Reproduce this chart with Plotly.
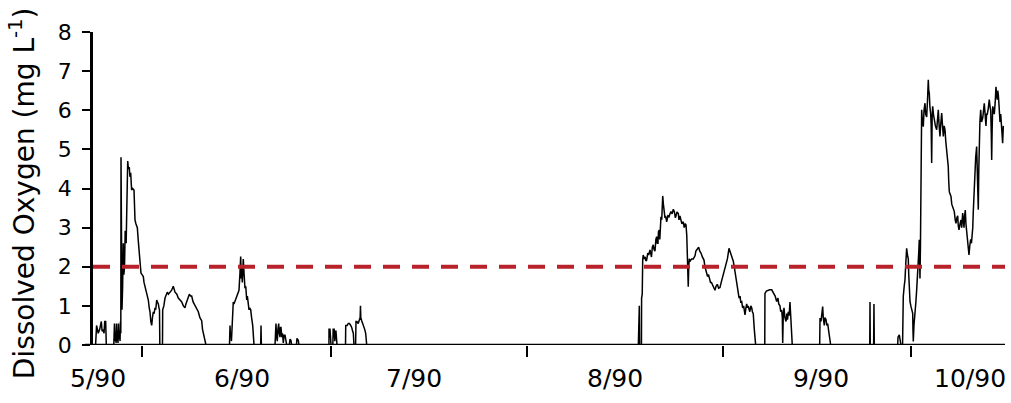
import plotly.graph_objects as go

# ---- data ----
DAY = [
    0, 0.4, 0.55, 0.8, 1.03, 1.28, 1.4, 1.54, 1.7, 1.8, 1.95, 2.05,
    3.2, 3.3, 3.4, 3.46, 3.55, 3.62, 3.7, 3.77, 3.85, 3.92, 4.0, 4.08, 4.16, 4.23, 4.28,
    4.31, 4.36, 4.46, 4.56, 4.66, 4.75, 4.85, 4.95, 5.03, 5.1, 5.18, 5.26, 5.34, 5.45, 5.58, 5.68, 5.8,
    5.94, 6.1, 6.31, 6.46, 6.6, 6.82, 6.95, 7.12, 7.25, 7.38, 7.55, 7.74, 7.85, 8.0, 8.2, 8.35, 8.51,
    8.65, 8.77, 8.9, 9.03, 9.15, 9.28, 9.4, 9.54, 9.65, 9.8, 9.92, 10.05, 10.15, 10.23, 10.28,
    10.69, 10.72, 10.9, 11.08, 11.25, 11.43, 11.6, 11.85, 12.1, 12.35, 12.5, 12.62, 12.9, 13.12, 13.4,
    13.65, 13.9, 14.15, 14.3, 14.42, 14.6, 14.82, 15.0, 15.18, 15.4, 15.69, 15.95, 16.2, 16.45, 16.72,
    16.85, 17.08, 17.38,
    21.0, 21.08, 21.15, 21.23, 21.3, 21.38, 21.5, 21.58, 21.69, 21.9, 22.11, 22.3, 22.46, 22.6, 22.72,
    22.8, 22.85, 22.97, 23.05, 23.12, 23.25, 23.38, 23.5, 23.65, 23.75, 23.85, 24.0, 24.1, 24.26, 24.4,
    24.57, 24.77,
    25.8, 25.85, 25.9,
    28.0, 28.15, 28.25, 28.35, 28.45, 28.57, 28.65, 28.77, 28.85, 28.92, 29.05, 29.15, 29.28, 29.4,
    29.54, 29.65, 29.8, 30.2, 30.31, 30.45, 30.57, 31.3, 31.38, 31.58, 31.69,
    36.3, 36.31, 36.46, 36.55, 36.62, 36.9, 36.95, 37.1, 37.2, 37.3, 37.38, 37.54,
    38.85, 38.88, 39.1, 39.28, 39.45, 39.65, 39.8, 39.95, 40.05, 40.15,
    40.4, 40.46, 40.6, 40.8, 40.97, 41.1, 41.15, 41.2, 41.34, 41.5, 41.69, 41.8, 41.95, 42.11,
    83.9, 83.95, 84.05, 84.1, 84.38, 84.4, 84.5, 84.57, 84.65, 84.77, 84.95, 85.05, 85.18, 85.35, 85.5,
    85.69, 85.8, 85.92, 86.05, 86.2, 86.3, 86.46, 86.6, 86.72, 86.82, 86.92, 87.0, 87.12, 87.2, 87.3,
    87.38, 87.5, 87.65, 87.75, 87.85, 88.0, 88.1, 88.26, 88.45, 88.62, 88.75, 88.92, 89.1, 89.28, 89.45,
    89.6, 89.69, 89.85, 90.05, 90.15, 90.3, 90.46, 90.6, 90.82, 90.95, 91.1, 91.23, 91.35, 91.43, 91.52,
    91.58, 91.65, 91.74, 91.9, 92.11, 92.35, 92.62, 92.75, 92.88, 93.0, 93.18, 93.35, 93.54, 93.75, 94.0,
    94.15, 94.25, 94.42, 94.55, 94.7, 94.82, 95.0, 95.15, 95.34, 95.5, 95.69, 95.85, 96.05, 96.25, 96.46,
    96.65, 96.88, 97.1, 97.38, 97.6, 97.85, 98.0, 98.15, 98.3, 98.51, 98.7, 98.88, 99.05, 99.15, 99.28,
    99.4, 99.55, 99.65, 99.8, 99.95, 100.1, 100.2, 100.31, 100.45, 100.57, 100.7, 100.8, 100.92, 101.05,
    101.2, 101.34, 101.45, 101.58, 101.74, 101.95,
    103.35, 103.38, 103.6, 103.89, 104.1, 104.42, 104.6, 104.77, 104.95, 105.18, 105.3, 105.38, 105.5,
    105.69, 105.8, 105.95, 106.05, 106.11, 106.2, 106.31, 106.45, 106.62, 106.75, 106.85, 106.97, 107.1,
    107.23, 107.3, 107.38, 107.58,
    111.8, 111.85, 112.0, 112.15, 112.26, 112.35, 112.51, 112.6, 112.77, 112.9, 113.03, 113.15, 113.23, 113.49,
    119.5, 119.54, 119.58, 120.1, 120.15, 120.2,
    123.8, 123.85, 124.05, 124.15, 124.3, 124.55, 124.6, 124.66, 124.8, 124.92, 125.05, 125.18, 125.3,
    125.43, 125.5, 125.58, 125.7, 125.85, 126.0, 126.11, 126.15, 126.2, 126.3, 126.46, 126.6, 126.72,
    126.85, 126.97, 127.05, 127.12, 127.18, 127.23, 127.3, 127.38, 127.49, 127.6, 127.74, 127.85, 128.0,
    128.1, 128.26, 128.4, 128.51, 128.58, 128.66, 128.75, 128.88, 128.95, 129.03, 129.1, 129.18, 129.3,
    129.43, 129.6, 129.8, 129.92, 130.05, 130.18, 130.31, 130.45, 130.57, 130.7, 130.82, 130.95, 131.08,
    131.2, 131.34, 131.45, 131.58, 131.65, 131.74, 131.88, 132.0, 132.12, 132.26, 132.4, 132.51, 132.65,
    132.77, 132.9, 133.03, 133.12, 133.23, 133.4, 133.54, 133.65, 133.8, 133.9, 134.0, 134.1, 134.2,
    134.3, 134.42, 134.55, 134.66, 134.72, 134.77, 134.9, 135.03, 135.15, 135.28, 135.35, 135.43, 135.55,
    135.69, 135.8, 135.95, 136.05, 136.2, 136.28, 136.35, 136.45, 136.57, 136.7, 136.88, 137.0, 137.12,
    137.25, 137.38, 137.48, 137.58, 137.7, 137.89, 138.0, 138.11, 138.2, 138.26, 138.33, 138.42, 138.55,
    138.66, 138.8, 138.92, 139.02, 139.12, 139.2, 139.28, 139.4, 139.54, 139.65, 139.8, 139.88, 139.95, 140.05,
]

DO = [
    0, 0, 0.5, 0.3, 0.4, 0.6, 0.35, 0.4, 0.3, 0.6, 0.6, 0,
    0, 0.55, 0.1, 0.3, 0.05, 0.55, 0.1, 0.2, 0.05, 0.55, 0.15, 0.35, 0.1, 0.6, 0.3,
    4.8, 2.0, 0.9, 1.5, 2.6, 1.8, 2.0, 2.9, 2.9, 2.6, 3.5, 3.3, 4.7, 4.5, 4.55, 4.3, 4.4,
    3.96, 4.0, 3.96, 3.2, 3.1, 3.0, 2.7, 2.26, 2.1, 1.84, 1.8, 1.75, 1.6, 1.5, 1.35, 1.2, 1.15,
    0.95, 0.85, 0.6, 0.5, 0.7, 0.85, 0.8, 0.95, 0.9, 1.15, 1.1, 1.05, 0.95, 0.9, 0,
    0, 0.9, 1.0, 1.2, 1.3, 1.35, 1.3, 1.35, 1.4, 1.5, 1.4, 1.35, 1.3, 1.2, 1.15,
    1.1, 1.0, 0.95, 1.05, 1.12, 1.2, 1.3, 1.25, 1.25, 1.1, 1.0, 0.9, 0.85, 0.7, 0.62,
    0.4, 0.2, 0,
    0, 0.5, 0.2, 0.3, 0.1, 0.55, 0.6, 1.1, 1.05, 1.15, 1.25, 1.3, 1.4, 1.8, 2.26,
    1.7, 2.0, 1.6, 1.9, 2.2, 1.8, 1.45, 1.5, 1.15, 1.25, 1.0, 0.9, 0.95, 0.9, 0.7,
    0.5, 0,
    0, 0.5, 0,
    0, 0.55, 0.2, 0.1, 0.4, 0.55, 0.3, 0.2, 0.45, 0.45, 0.2, 0.3, 0.05, 0.25,
    0.25, 0.1, 0, 0, 0.15, 0.12, 0, 0, 0.17, 0.12, 0,
    0, 0.4, 0.4, 0.1, 0, 0, 0.4, 0.4, 0.1, 0.35, 0.35, 0,
    0, 0.5, 0.5, 0.55, 0.55, 0.5, 0.45, 0.35, 0.3, 0,
    0, 0.6, 0.6, 0.55, 0.62, 0.7, 1.0, 0.7, 0.62, 0.55, 0.5, 0.4, 0.3, 0,
    0, 1.0, 1.0, 0, 0, 1.2, 1.3, 2.17, 2.3, 2.2, 2.25, 2.15, 2.17, 2.35, 2.3,
    2.43, 2.3, 2.25, 2.5, 2.56, 2.45, 2.4, 2.7, 2.77, 2.6, 2.6, 2.9, 2.94, 2.7, 3.1,
    3.28, 3.2, 3.81, 3.6, 3.36, 3.25, 3.3, 3.15, 3.3, 3.28, 3.35, 3.41, 3.35, 3.47, 3.4,
    3.25, 3.3, 3.4, 3.36, 3.2, 3.3, 3.2, 3.1, 3.15, 3.0, 3.1, 3.07, 2.8, 2.39, 2.0,
    1.49, 2.0, 2.2, 2.15, 2.2, 2.2, 2.28, 2.4, 2.43, 2.45, 2.5, 2.4, 2.35, 2.25, 2.17,
    2.0, 1.95, 1.87, 1.75, 1.8, 1.7, 1.6, 1.6, 1.53, 1.45, 1.4, 1.5, 1.55, 1.45, 1.47,
    1.6, 1.75, 1.9, 2.05, 2.2, 2.47, 2.4, 2.3, 2.25, 2.14, 1.95, 1.75, 1.6, 1.4, 1.32,
    1.2, 1.25, 1.1, 1.11, 0.95, 1.0, 0.85, 0.77, 0.95, 1.05, 0.95, 1.0, 0.92, 0.85,
    1.0, 0.95, 0.85, 0.8, 0.4, 0,
    0, 1.32, 1.38, 1.41, 1.41, 1.41, 1.35, 1.3, 1.25, 1.11, 1.2, 1.2, 1.05,
    1.0, 0.85, 0.9, 0.7, 0.05, 0.8, 0.95, 0.7, 0.6, 0.8, 0.65, 0.85, 0.75,
    1.1, 0.8, 0.6, 0,
    0, 0.69, 0.6, 0.85, 0.98, 0.7, 0.5, 0.7, 0.65, 0.5, 0.55, 0.4, 0.3, 0,
    0, 1.1, 0, 0, 1.05, 0,
    0, 0.2, 0.26, 0.1, 0, 0, 0.6, 1.24, 1.5, 1.66, 2.1, 2.47, 2.3,
    2.2, 1.8, 1.3, 1.1, 0.98, 0.9, 0.81, 0.4, 0.09, 0.5, 0.75, 1.1, 1.41,
    1.7, 2.0, 2.4, 2.69, 2.2, 1.7, 2.5, 4.22, 6.01, 5.7, 5.58, 6.0, 6.18,
    5.9, 5.83, 6.3, 6.78, 6.5, 6.44, 6.1, 5.9, 5.6, 4.65, 5.8, 6.1, 5.9,
    5.76, 5.6, 5.5, 5.8, 6.01, 5.6, 5.33, 5.7, 5.93, 5.6, 5.33, 5.6, 5.5,
    5.2, 4.99, 4.8, 4.56, 4.2, 3.92, 3.85, 3.8, 3.6, 3.54, 3.5, 3.41, 3.2,
    3.11, 3.25, 3.3, 3.05, 2.94, 3.1, 3.2, 3.0, 3.37, 3.2, 3.0, 3.3, 3.45,
    3.1, 2.9, 2.7, 2.51, 2.4, 2.3, 2.55, 2.7, 2.6, 2.86, 3.0, 3.4, 4.0,
    4.48, 4.8, 5.07, 4.2, 3.46, 4.5, 5.3, 5.7, 6.01, 5.7, 5.8, 5.95, 6.18,
    5.9, 5.6, 5.9, 5.9, 6.0, 6.27, 6.1, 6.0, 5.4, 4.73, 5.5, 6.1, 6.0,
    5.9, 6.2, 6.6, 6.4, 6.27, 6.5, 6.4, 6.1, 5.7, 5.9, 5.5, 5.2, 5.16, 5.6,
]

THRESHOLD = 2.0
X_MAX = 140.31
TICK_DAYS = [7.49, 36.57, 66.72, 96.88, 125.8]
LABEL_DAYS = [0.77, 22.9, 49.4, 80.3, 112.0, 134.9]
LABELS = ["5/90", "6/90", "7/90", "8/90", "9/90", "10/90"]
Y_TICKS = [0, 1, 2, 3, 4, 5, 6, 7, 8]
Y_TITLE = "Dissolved Oxygen (mg L<sup>-1</sup>)"

FONT = "DejaVu Sans"

fig = go.Figure()
fig.add_trace(go.Scatter(
    x=DAY, y=DO, mode="lines",
    line=dict(color="black", width=1.5),
    hoverinfo="skip",
))
fig.add_trace(go.Scatter(
    x=[0, X_MAX], y=[THRESHOLD, THRESHOLD], mode="lines",
    line=dict(color="#B8232B", width=4, dash="17px,12px"),
    hoverinfo="skip",
))

fig.update_layout(
    width=1011, height=403,
    margin=dict(l=93, r=6, t=32, b=58),
    plot_bgcolor="white", paper_bgcolor="white",
    showlegend=False,
    xaxis=dict(
        range=[0, X_MAX], showgrid=False, zeroline=False, showline=False,
        tickmode="array", tickvals=TICK_DAYS, showticklabels=False,
        ticks="outside", ticklen=11, tickwidth=2, tickcolor="black",
    ),
    yaxis=dict(
        range=[0, 8], tickmode="array", tickvals=Y_TICKS,
        showgrid=False, zeroline=False,
        showline=True, linecolor="black", linewidth=2.5,
        ticks="outside", ticklen=8, tickwidth=2, tickcolor="black",
        tickfont=dict(family=FONT, size=22, color="black"),
        ticklabelstandoff=6,
    ),
)

# x-axis baseline (extends slightly left of the y axis, as in the reference)
fig.add_shape(type="line", xref="paper", yref="y",
              x0=-8 / 912, x1=1, y0=0, y1=0,
              line=dict(color="black", width=2.5), layer="above")

for d, lab in zip(LABEL_DAYS, LABELS):
    fig.add_annotation(x=d, y=0, xref="x", yref="y", text=lab, showarrow=False,
                       yshift=-33, font=dict(family=FONT, size=25, color="black"))

fig.add_annotation(x=-71 / 912, y=0.485, xref="paper", yref="paper", text=Y_TITLE,
                   textangle=-90, showarrow=False, xanchor="center", yanchor="middle",
                   font=dict(family=FONT, size=28, color="black"))

fig.write_html("out.html",
               config={"displayModeBar": False},
               post_script="document.body.style.margin='0';document.body.style.padding='0';")
